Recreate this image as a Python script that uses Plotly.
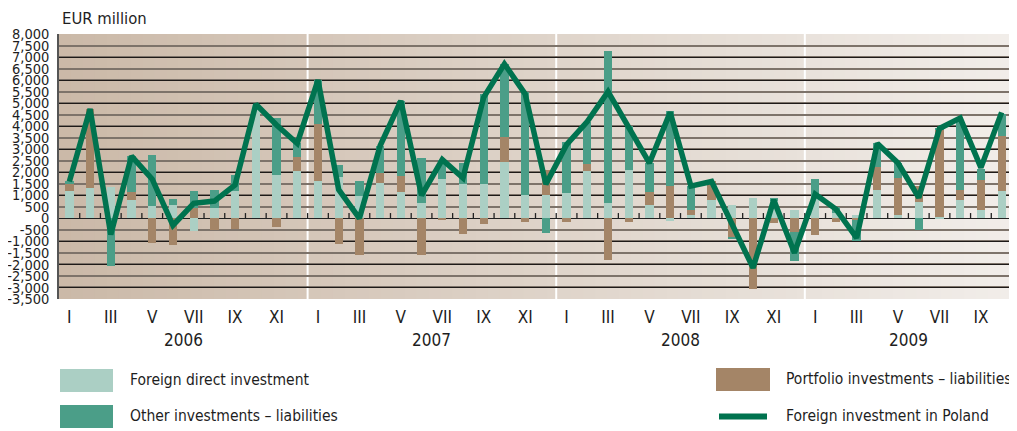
import plotly.graph_objects as go

# ---------------- data ----------------
years = ["2006", "2007", "2008", "2009"]
roman = ["I", "II", "III", "IV", "V", "VI", "VII", "VIII", "IX", "X", "XI", "XII"]
months = [f"{y}-{m}" for y in years for m in roman][:46]   # 2006 I .. 2009 X
month_labels = [m.split("-")[1] for m in months]

fdi = [1200, 1300, 1350, 800, 550, 600, -550, 470, 1200, 4900, 1900, 2050,
       1600, 1800, 950, 1550, 1150, 650, 1700, 1500, 1500, 2450, 1000, 1000,
       1100, 2050, 650, 2100, 600, -100, 150, 800, 600, 870, 750, 370,
       900, 250, 130, 1250, 130, 700, 50, 780, 360, 1180]
portfolio = [280, 3450, 0, 350, -1050, -1150, 450, -500, -480, 0, -380, 600,
             2500, -1100, -1600, 420, 700, -1600, -40, -700, -250, 1100, -150, 1120,
             -150, 300, -1800, -150, 550, 1400, 200, 800, -850, -3050, -200, -580,
             -720, -150, -90, 1000, 1600, 700, 3800, 450, 1300, 2400]
other = [150, 0, -2050, 1550, 2200, 250, 750, 780, 700, 0, 2450, 630,
         1900, 500, 650, 1150, 3250, 1950, 850, 900, 3900, 3150, 4500, -650,
         2200, 1850, 6600, 1900, 1250, 3250, 1050, 0, -50, 0, 150, -1280,
         800, 250, -900, 1000, 680, -500, 50, 3050, 500, 950]
total = [1600, 4750, -700, 2700, 1700, -300, 650, 750, 1450, 4950, 4050, 3250,
         6000, 1250, 0, 3150, 5100, 1000, 2550, 1750, 5250, 6700, 5400, 1480,
         3200, 4200, 5500, 3900, 2400, 4600, 1400, 1600, -300, -2150, 800, -1500,
         1050, 400, -850, 3250, 2400, 900, 3900, 4350, 2200, 4600]

y_ticks = list(range(-3500, 8001, 500))
y_ticktext = [f"{v:,}" for v in y_ticks]

series_names = ["Foreign direct investment", "Portfolio investments \u2013 liabilities",
                "Other investments \u2013 liabilities", "Foreign investment in Poland"]

# ---------------- style ----------------
C_FDI = "#abcfc4"
C_PI = "#a48567"
C_OI = "#4b9e88"
C_LINE = "#00734f"
TXT = "#1e1e1e"
FONT = "DejaVu Sans Condensed, Liberation Sans Narrow, sans-serif"

# the page body adds an 8px margin, so the figure is 8px smaller and shifted
OFF = 8
W, H = 1017 - OFF, 431 - OFF
PL, PT, PR, PB = 59, 34, 1012, 299          # plot area in window pixels
ML, MT = PL - OFF, PT - OFF
PW, PH = PR - PL, PB - PT
MR, MB = W - ML - PW, H - MT - PH


def px(xs):
    return (xs - PL) / PW


def py(ys):
    return (PB - ys) / PH


x = list(range(len(months)))

fig = go.Figure()
for vals, col, name in [(fdi, C_FDI, series_names[0]), (portfolio, C_PI, series_names[1]),
                        (other, C_OI, series_names[2])]:
    fig.add_trace(go.Bar(x=x, y=vals, marker=dict(color=col, line=dict(width=0)),
                         width=0.4, name=name, showlegend=False))
fig.add_trace(go.Scatter(x=x, y=total, mode="lines", name=series_names[3],
                         line=dict(color=C_LINE, width=5.5), showlegend=False))
# overlay axis carrying the darker 1,000 grid lines
fig.add_trace(go.Scatter(x=[0], y=[0], yaxis="y2", mode="markers",
                         marker=dict(opacity=0), showlegend=False, hoverinfo="skip"))

shapes = []
# background gradient
N = 80
c0, c1 = (203, 185, 168), (241, 237, 233)
for i in range(N):
    t = i / (N - 1)
    col = tuple(round(c0[k] + (c1[k] - c0[k]) * t) for k in range(3))
    shapes.append(dict(type="rect", xref="paper", yref="paper", x0=i / N, x1=(i + 1) / N + 0.002,
                       y0=0, y1=1, fillcolor=f"rgb{col}", line=dict(width=0), layer="below"))
# year separators
for k in range(1, len(years)):
    b = 12 * k - 0.5
    shapes.append(dict(type="line", xref="x", yref="paper", x0=b, x1=b, y0=0, y1=1,
                       line=dict(color="white", width=2), layer="between"))
# small ticks on zero line at month boundaries
for i in range(len(months) - 1):
    shapes.append(dict(type="line", xref="x", yref="y", x0=i + 0.5, x1=i + 0.5, y0=0, y1=230,
                       line=dict(color="#222222", width=1.3), layer="between"))

# manual legend
def swatch(x0, y0, x1, y1, col):
    shapes.append(dict(type="rect", xref="paper", yref="paper", x0=px(x0), x1=px(x1),
                       y0=py(y1), y1=py(y0), fillcolor=col, line=dict(width=0)))

swatch(60, 369, 113, 392, C_FDI)
swatch(60, 405, 113, 428, C_OI)
swatch(716, 368, 770, 391, C_PI)
shapes.append(dict(type="line", xref="paper", yref="paper", x0=px(719), x1=px(767),
                   y0=py(416.5), y1=py(416.5), line=dict(color=C_LINE, width=6)))

annotations = []
for txt, xx, yy in [(series_names[0], 128, 380), (series_names[2], 128, 416),
                    (series_names[1], 784, 379), (series_names[3], 784, 416)]:
    annotations.append(dict(text=txt, xref="paper", yref="paper", x=px(xx), y=py(yy),
                            xanchor="left", yanchor="middle", showarrow=False,
                            font=dict(size=15.5, color=TXT, family=FONT)))
# year labels
for k, yr in enumerate(years):
    idx = [i for i, m in enumerate(months) if m.startswith(yr)]
    annotations.append(dict(text=yr, xref="x", yref="paper", x=(idx[0] + idx[-1]) / 2,
                            y=py(340), xanchor="center", yanchor="middle", showarrow=False,
                            font=dict(size=17, color=TXT, family=FONT)))
annotations.append(dict(text="EUR million", xref="paper", yref="paper", x=px(60), y=py(18.5),
                        xanchor="left", yanchor="middle", showarrow=False,
                        font=dict(size=16.5, color=TXT, family=FONT)))

fig.update_layout(
    width=W, height=H,
    margin=dict(l=ML, r=MR, t=MT, b=MB, autoexpand=False),
    paper_bgcolor="white", plot_bgcolor="rgba(0,0,0,0)",
    barmode="relative", bargap=0,
    font=dict(family=FONT, color=TXT),
    shapes=shapes, annotations=annotations,
    xaxis=dict(range=[-0.5, len(months) - 0.5], tickmode="array",
               tickvals=x[::2], ticktext=month_labels[::2], automargin=False,
               showgrid=False, zeroline=False, showline=False, ticks="",
               tickfont=dict(size=17, color=TXT, family=FONT), ticklabelstandoff=6),
    yaxis=dict(range=[-3500, 8000], tickmode="array", tickvals=y_ticks, ticktext=y_ticktext,
               showgrid=True, gridcolor="#7d736a", gridwidth=1.6, automargin=False,
               zeroline=True, zerolinecolor="#222222", zerolinewidth=1.3,
               showline=True, linecolor="#555555", linewidth=1.5, ticks="",
               tickfont=dict(size=14.5, color=TXT, family=FONT), ticklabelstandoff=5),
    yaxis2=dict(range=[-3500, 8000], overlaying="y", side="right", dtick=1000, tick0=0,
                showgrid=True, gridcolor="#1e1a18", gridwidth=1.2, showticklabels=False,
                zeroline=False, showline=False, ticks="", automargin=False),
    hovermode=False,
)

fig.write_html("out.html")
